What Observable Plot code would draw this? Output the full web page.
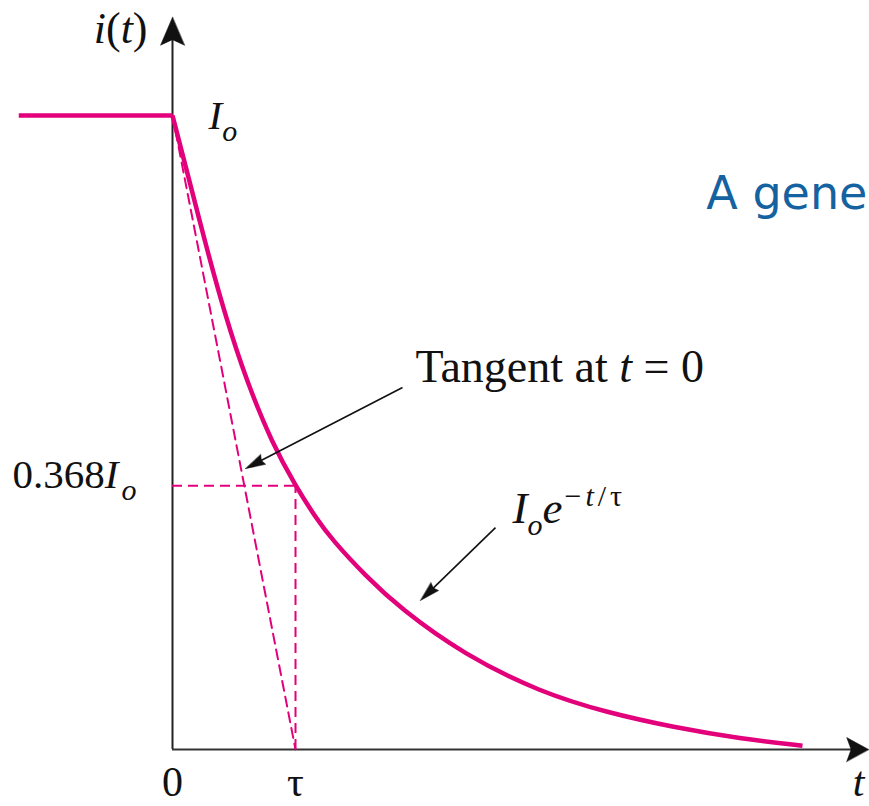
<!DOCTYPE html>
<html><head><meta charset="utf-8">
<script src="https://cdn.jsdelivr.net/npm/d3@7"></script>
<script src="https://cdn.jsdelivr.net/npm/@observablehq/plot@0.6"></script>
<style>html,body{margin:0;padding:0;background:#fff;overflow:hidden}svg{overflow:hidden}</style>
</head><body><div id="chart"></div>
<script>
// ---- data (t in units of tau, i in units of Io) ----
const curveT = [0, 0.14, 0.276, 0.423, 0.602, 0.813, 1.0, 1.163, 1.301, 1.569, 1.854, 2.366, 2.992, 3.537, 4.073, 4.618, 5.122];
const curveI = [1, 0.895, 0.792, 0.688, 0.581, 0.482, 0.416, 0.366, 0.330, 0.274, 0.222, 0.150, 0.090, 0.058, 0.035, 0.017, 0.006];
const preT = [-1.25, 0];
const preI = [1, 1];
const tau = 1;
const levelI = 0.416;          // level marked "0.368 Io"
const tickValues = [0, 1];
const tickLabels = ["0", "τ"];
const axisTopI = 1.155;
const axisEndT = 5.66;

// ---- geometry of the frame ----
const W = 869, H = 806;
const xDom = [-172 / 123, (W - 172) / 123];
const yDom = [(749 - H) / 634, 749 / 634];
const kx = W / (xDom[1] - xDom[0]);
const ky = H / (yDom[1] - yDom[0]);

const curve = curveT.map((t, k) => ({t, i: curveI[k]}));
const pre = preT.map((t, k) => ({t, i: preI[k]}));
const tangent = [{t: 0, i: 1}, {t: tau, i: 0}];

function head(id, x1, y1, x2, y2, len, half, notch) {
  const dx = (x2 - x1) * kx, dy = (y2 - y1) * ky;
  const d = Math.hypot(dx, dy), ux = dx / d, uy = dy / d;
  const bx = -ux * len, by = -uy * len, px = -uy, py = ux;
  const pts = [[0, 0], [bx + px * half, by + py * half], [bx * (1 - notch), by * (1 - notch)], [bx - px * half, by - py * half]];
  return pts.map(([a, b]) => ({id, t: x2 + a / kx, i: y2 + b / ky}));
}

const annArrows = [
  {x1: 1.870, y1: 0.571, x2: 0.593, y2: 0.443},
  {x1: 2.626, y1: 0.350, x2: 2.016, y2: 0.235}
];
const heads = [
  ...head("v", 0, 0, 0, axisTopI, 28, 12, 0.2),
  ...head("h", 0, 0, axisEndT, 0, 22, 12, 0.2),
  ...annArrows.flatMap((a, k) => head("a" + k, a.x1, a.y1, a.x2, a.y2, 20, 5.5, 0.1))
];
const annLines = annArrows.map(a => {
  const dx = (a.x2 - a.x1) * kx, dy = (a.y2 - a.y1) * ky, d = Math.hypot(dx, dy);
  const f = (d - 16) / d;
  return {x1: a.x1, y1: a.y1, x2: a.x1 + (a.x2 - a.x1) * f, y2: a.y1 + (a.y2 - a.y1) * f};
});

const PINK = "#e3007b";
const SERIF = "Liberation Serif, Times New Roman, serif";
const baseI = -0.0726;

// annotation labels: text, position (t, i), anchor, size
const labels = [
  {text: "i(t)", t: -0.203, i: 1.115, anchor: "end", size: 44},
  {text: "Io", t: 0.293, i: 0.979, anchor: "start", size: 41},
  {text: "0.368Io", t: -1.30, i: 0.413, anchor: "start", size: 41},
  {text: "Tangent at t = 0", t: 1.976, i: 0.579, anchor: "start", size: 46},
  {text: "Ioe−t/τ", t: 2.764, i: 0.358, anchor: "start", size: 45},
  {text: "t", t: 5.577, i: baseI, anchor: "middle", size: 42}
];
const ticks = tickValues.map((v, k) => ({t: v, label: tickLabels[k]}));

const plot = Plot.plot({
  width: W, height: H, margin: 0,
  x: {domain: xDom, axis: null},
  y: {domain: yDom, axis: null},
  style: {background: "white", fontFamily: SERIF},
  marks: [
    Plot.text(["A gene"], {x: () => 4.34, y: () => 0.853, text: d => d, textAnchor: "start", lineAnchor: "bottom",
      fontFamily: "DejaVu Sans, Verdana, sans-serif", fontSize: 46, fill: "#14629f"}),
    // axes
    Plot.ruleX([0], {y1: 0, y2: axisTopI - 0.02, stroke: "#222", strokeWidth: 2}),
    Plot.ruleY([0], {x1: 0, x2: axisEndT - 0.1, stroke: "#333", strokeWidth: 2.2}),
    // dashed construction lines
    Plot.line(tangent, {x: "t", y: "i", stroke: PINK, strokeWidth: 2, strokeDasharray: "10,6"}),
    Plot.ruleY([levelI], {x1: 0, x2: tau, stroke: PINK, strokeWidth: 2, strokeDasharray: "10,6"}),
    Plot.ruleX([tau], {y1: 0, y2: levelI, stroke: PINK, strokeWidth: 2, strokeDasharray: "10,6"}),
    // current
    Plot.line(pre, {x: "t", y: "i", stroke: PINK, strokeWidth: 4.5, strokeLinecap: "butt"}),
    Plot.line(curve, {x: "t", y: "i", stroke: PINK, strokeWidth: 4.5, curve: "basis", strokeLinecap: "butt"}),
    // annotation arrows
    Plot.link(annLines, {x1: "x1", y1: "y1", x2: "x2", y2: "y2", stroke: "#111", strokeWidth: 1.6}),
    Plot.line(heads, {x: "t", y: "i", z: "id", fill: "#111", stroke: "#111", strokeWidth: 0.5, curve: "linear-closed"}),
    // labels
    Plot.text(ticks, {x: "t", y: () => baseI, text: "label", textAnchor: "middle", lineAnchor: "bottom", fontSize: 42, fill: "#111"}),
    ...labels.map(l => Plot.text([l], {x: "t", y: "i", text: "text", textAnchor: l.anchor, lineAnchor: "bottom", fontSize: l.size, fill: "#111"}))
  ]
});

// rich text formatting (italics, subscripts, superscripts)
const rich = {
  "i(t)": [["i", "it"], ["("], ["t", "it"], [")"]],
  "Io": [["I", "it"], ["o", "sub"]],
  "0.368Io": [["0.368"], ["I", "it"], ["o", "sub", 3]],
  "Tangent at t = 0": [["Tangent at "], ["t", "it"], [" = 0"]],
  "Ioe−t/τ": [["I", "it"], ["o", "sub"], ["e", "it"], ["−", "sup", 2], ["t", "supit"], ["/τ", "sup"]],
  "t": [["t", "it"]]
};
plot.querySelectorAll("text").forEach(el => {
  const segs = rich[el.textContent];
  if (!segs) return;
  while (el.firstChild) el.removeChild(el.firstChild);
  let shift = 0;
  for (const [s, kind, dx] of segs) {
    const ts = document.createElementNS("http://www.w3.org/2000/svg", "tspan");
    ts.textContent = s;
    let target = 0;
    if (kind === "sub") { target = 12; ts.setAttribute("font-size", 30); ts.setAttribute("font-style", "italic"); }
    else if (kind === "sup" || kind === "supit") {
      target = -17; ts.setAttribute("font-size", 30); ts.setAttribute("letter-spacing", 4);
      if (kind === "supit") ts.setAttribute("font-style", "italic");
    }
    else if (kind === "it") { ts.setAttribute("font-style", "italic"); }
    if (target !== shift) { ts.setAttribute("dy", target - shift); shift = target; }
    if (dx) ts.setAttribute("dx", dx);
    el.appendChild(ts);
  }
});
document.getElementById("chart").appendChild(plot);
</script>
</body></html>
